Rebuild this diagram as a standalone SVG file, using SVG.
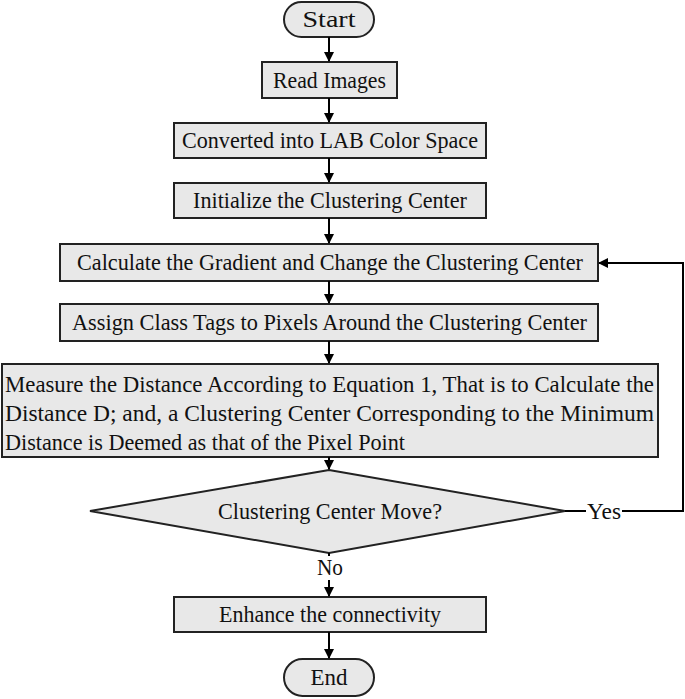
<svg xmlns="http://www.w3.org/2000/svg" width="685" height="699" viewBox="0 0 685 699">
<style>
.n{fill:#e8e8e8;stroke:#222;stroke-width:2}
.t{font-family:"Liberation Serif","Times New Roman",serif;font-size:23px;fill:#111;text-anchor:middle}
.tl{font-family:"Liberation Serif","Times New Roman",serif;font-size:23px;fill:#111}
.c{fill:none;stroke:#000;stroke-width:2}
</style>
<defs>
<marker id="ah" markerWidth="10" markerHeight="10" refX="9" refY="5" orient="auto" markerUnits="userSpaceOnUse">
<path d="M0,0 L10,5 L0,10 z" fill="#000"/>
</marker>
</defs>
<rect width="685" height="699" fill="#fff"/>
<g id="start"><rect class="n" x="284" y="2" width="90" height="35" rx="17.5"/><text class="t" x="329" y="27" textLength="53" lengthAdjust="spacingAndGlyphs">Start</text></g>
<g id="read"><rect class="n" x="262" y="62" width="135" height="36"/><text class="t" x="329.5" y="88" textLength="113" lengthAdjust="spacingAndGlyphs">Read Images</text></g>
<g id="convert"><rect class="n" x="174" y="123" width="312" height="35"/><text class="t" x="330" y="148" textLength="296" lengthAdjust="spacingAndGlyphs">Converted into LAB Color Space</text></g>
<g id="init"><rect class="n" x="174" y="183" width="312" height="35"/><text class="t" x="330" y="208" textLength="274" lengthAdjust="spacingAndGlyphs">Initialize the Clustering Center</text></g>
<g id="gradient"><rect class="n" x="60" y="244" width="538" height="37"/><text class="t" x="330" y="270" textLength="506" lengthAdjust="spacingAndGlyphs">Calculate the Gradient and Change the Clustering Center</text></g>
<g id="assign"><rect class="n" x="60" y="304" width="538" height="37"/><text class="t" x="329.5" y="330" textLength="515" lengthAdjust="spacingAndGlyphs">Assign Class Tags to Pixels Around the Clustering Center</text></g>
<g id="measure"><rect class="n" x="2" y="364" width="656" height="93"/>
<text class="tl" x="5" y="392" textLength="649" lengthAdjust="spacingAndGlyphs">Measure the Distance According to Equation 1, That is to Calculate the</text>
<text class="tl" x="5" y="421" textLength="649" lengthAdjust="spacingAndGlyphs">Distance D; and, a Clustering Center Corresponding to the Minimum</text>
<text class="tl" x="5" y="450" textLength="400" lengthAdjust="spacingAndGlyphs">Distance is Deemed as that of the Pixel Point</text></g>
<g id="decision"><polygon class="n" points="329,470 565,511 329,553 90,511"/><text class="t" x="330" y="519" textLength="224" lengthAdjust="spacingAndGlyphs">Clustering Center Move?</text></g>
<g id="enhance"><rect class="n" x="174" y="597" width="312" height="35"/><text class="t" x="330" y="622" textLength="222" lengthAdjust="spacingAndGlyphs">Enhance the connectivity</text></g>
<g id="end"><rect class="n" x="284" y="659" width="90" height="37" rx="18.5"/><text class="t" x="329" y="685" textLength="37" lengthAdjust="spacingAndGlyphs">End</text></g>
<g id="connectors">
<line class="c" x1="329" y1="37" x2="329" y2="61" marker-end="url(#ah)"/>
<line class="c" x1="329" y1="98" x2="329" y2="122" marker-end="url(#ah)"/>
<line class="c" x1="329" y1="158" x2="329" y2="182" marker-end="url(#ah)"/>
<line class="c" x1="329" y1="218" x2="329" y2="243" marker-end="url(#ah)"/>
<line class="c" x1="329" y1="281" x2="329" y2="303" marker-end="url(#ah)"/>
<line class="c" x1="329" y1="341" x2="329" y2="363" marker-end="url(#ah)"/>
<line class="c" x1="329" y1="457" x2="329" y2="469" marker-end="url(#ah)"/>
<line class="c" x1="329" y1="553" x2="329" y2="556"/>
<line class="c" x1="329" y1="580" x2="329" y2="596" marker-end="url(#ah)"/>
<line class="c" x1="329" y1="632" x2="329" y2="658" marker-end="url(#ah)"/>
<line class="c" x1="565" y1="511" x2="586" y2="511"/>
<polyline class="c" points="622,511 683,511 683,263 599,263" marker-end="url(#ah)"/>
<text class="t" x="604" y="519" textLength="34" lengthAdjust="spacingAndGlyphs">Yes</text>
<text class="t" x="330" y="575" textLength="26" lengthAdjust="spacingAndGlyphs">No</text>
</g>
</svg>
